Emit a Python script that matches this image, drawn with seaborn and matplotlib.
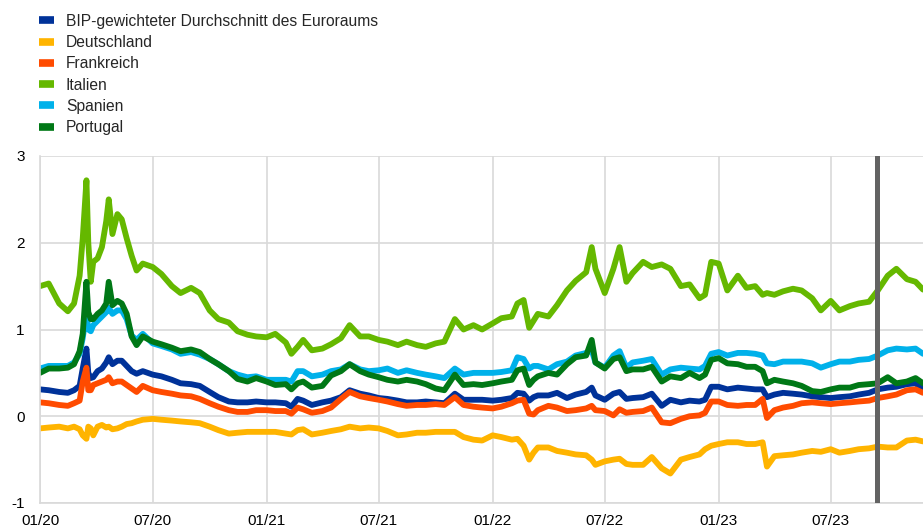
import matplotlib
matplotlib.use("Agg")
import pandas as pd
import matplotlib.pyplot as plt
import matplotlib.dates as mdates
from matplotlib.lines import Line2D
import seaborn as sns

# Stichtage (ungefähr halbmonatlich, dichter bei Ausschlägen)
dates = [
    # 2020
    "2020-01-01", "2020-01-15", "2020-02-01", "2020-02-15", "2020-02-25", "2020-03-05",
    "2020-03-10", "2020-03-16", "2020-03-19", "2020-03-23", "2020-03-27", "2020-04-03",
    "2020-04-10", "2020-04-17", "2020-04-21", "2020-04-27", "2020-05-05", "2020-05-12",
    "2020-05-20", "2020-05-28", "2020-06-05", "2020-06-15", "2020-07-01", "2020-07-15",
    "2020-08-01", "2020-08-15", "2020-09-01", "2020-09-15", "2020-10-01", "2020-10-15",
    "2020-11-01", "2020-11-15", "2020-12-01", "2020-12-15",
    # 2021
    "2021-01-01", "2021-01-15", "2021-02-01", "2021-02-10", "2021-02-20", "2021-03-01",
    "2021-03-15", "2021-04-01", "2021-04-15", "2021-05-01", "2021-05-15", "2021-06-01",
    "2021-06-15", "2021-07-01", "2021-07-15", "2021-08-01", "2021-08-15", "2021-09-01",
    "2021-09-15", "2021-10-01", "2021-10-15", "2021-11-01", "2021-11-15", "2021-12-01",
    "2021-12-15",
    # 2022
    "2022-01-01", "2022-01-15", "2022-02-01", "2022-02-10", "2022-02-20", "2022-03-01",
    "2022-03-08", "2022-03-15", "2022-04-01", "2022-04-15", "2022-05-01", "2022-05-15",
    "2022-06-01", "2022-06-10", "2022-06-16", "2022-07-01", "2022-07-15", "2022-07-25",
    "2022-08-05", "2022-08-15", "2022-09-01", "2022-09-15", "2022-10-01", "2022-10-15",
    "2022-11-01", "2022-11-15", "2022-12-01", "2022-12-10", "2022-12-20",
    # 2023
    "2023-01-01", "2023-01-15", "2023-02-01", "2023-02-15", "2023-03-01", "2023-03-13",
    "2023-03-20", "2023-04-01", "2023-04-15", "2023-05-01", "2023-05-15", "2023-06-01",
    "2023-06-15", "2023-07-01", "2023-07-15", "2023-08-01", "2023-08-15", "2023-09-01",
    "2023-09-15", "2023-10-01", "2023-10-15", "2023-11-01", "2023-11-15", "2023-11-27",
]

euroraum = [
    0.31, 0.30, 0.28, 0.27, 0.30, 0.35, 0.55, 0.78, 0.50, 0.44, 0.45, 0.52, 0.55, 0.62, 0.68, 0.60, 0.64,
    0.64, 0.58, 0.52, 0.49, 0.52, 0.48, 0.46, 0.42, 0.38, 0.37, 0.35, 0.28, 0.22, 0.17, 0.16, 0.16, 0.17,
    0.16, 0.16, 0.15, 0.11, 0.20, 0.18, 0.13, 0.16, 0.18, 0.22, 0.30, 0.26, 0.24, 0.21, 0.20, 0.18, 0.16,
    0.16, 0.17, 0.16, 0.15, 0.26, 0.19, 0.19, 0.19,
    0.18, 0.19, 0.21, 0.27, 0.26, 0.18, 0.22, 0.24, 0.24, 0.27, 0.21, 0.25, 0.28, 0.33, 0.24, 0.19, 0.26,
    0.28, 0.20, 0.21, 0.22, 0.26, 0.12, 0.19, 0.16, 0.18, 0.17, 0.19, 0.34,
    0.34, 0.31, 0.33, 0.32, 0.31, 0.31, 0.22, 0.25, 0.27, 0.26, 0.25, 0.23, 0.22, 0.21, 0.22, 0.23, 0.25,
    0.27, 0.31, 0.33, 0.34, 0.37, 0.38, 0.31,
]
deutschland = [
    -0.14, -0.13, -0.12, -0.14, -0.12, -0.15, -0.22, -0.26, -0.12, -0.14, -0.22, -0.12, -0.10, -0.13,
    -0.12, -0.15, -0.14, -0.12, -0.09, -0.08, -0.06, -0.04, -0.03, -0.04, -0.05, -0.06, -0.07, -0.08,
    -0.12, -0.16, -0.20, -0.19, -0.18, -0.18,
    -0.18, -0.18, -0.20, -0.21, -0.16, -0.15, -0.21, -0.19, -0.17, -0.15, -0.12, -0.14, -0.13, -0.14,
    -0.17, -0.22, -0.21, -0.19, -0.19, -0.18, -0.18, -0.18, -0.24, -0.27, -0.28,
    -0.22, -0.24, -0.27, -0.26, -0.34, -0.50, -0.42, -0.36, -0.36, -0.40, -0.42, -0.44, -0.45, -0.50,
    -0.56, -0.52, -0.50, -0.49, -0.55, -0.56, -0.56, -0.47, -0.60, -0.66, -0.50, -0.47, -0.44, -0.38,
    -0.34,
    -0.32, -0.30, -0.30, -0.32, -0.32, -0.30, -0.58, -0.46, -0.45, -0.44, -0.42, -0.40, -0.41, -0.38,
    -0.42, -0.40, -0.38, -0.37, -0.35, -0.36, -0.36, -0.28, -0.27, -0.29,
]
frankreich = [
    0.16, 0.15, 0.13, 0.12, 0.15, 0.18, 0.40, 0.56, 0.30, 0.30, 0.36, 0.38, 0.40, 0.42, 0.45, 0.38, 0.40,
    0.40, 0.36, 0.32, 0.28, 0.35, 0.30, 0.28, 0.26, 0.24, 0.23, 0.20, 0.15, 0.11, 0.07, 0.05, 0.05, 0.07,
    0.07, 0.06, 0.06, 0.03, 0.10, 0.08, 0.04, 0.06, 0.10, 0.20, 0.28, 0.23, 0.21, 0.19, 0.17, 0.14, 0.12,
    0.13, 0.13, 0.14, 0.13, 0.22, 0.13, 0.11, 0.10,
    0.09, 0.11, 0.15, 0.18, 0.19, 0.03, 0.02, 0.07, 0.12, 0.10, 0.06, 0.07, 0.09, 0.12, 0.07, 0.06, 0.01,
    0.08, 0.04, 0.05, 0.06, 0.10, -0.07, -0.08, -0.03, 0.00, 0.01, 0.04, 0.17,
    0.17, 0.13, 0.12, 0.13, 0.13, 0.20, -0.02, 0.07, 0.10, 0.12, 0.15, 0.16, 0.15, 0.14, 0.15, 0.16, 0.17,
    0.18, 0.21, 0.23, 0.25, 0.30, 0.31, 0.27,
]
italien = [
    1.50, 1.53, 1.30, 1.21, 1.30, 1.62, 2.05, 2.72, 2.00, 1.55, 1.78, 1.82, 1.95, 2.25, 2.50, 2.10, 2.33,
    2.27, 2.05, 1.85, 1.68, 1.76, 1.72, 1.64, 1.50, 1.42, 1.48, 1.42, 1.22, 1.12, 1.08, 0.98, 0.94, 0.92,
    0.91, 0.95, 0.85, 0.72, 0.80, 0.88, 0.76, 0.78, 0.83, 0.90, 1.05, 0.92, 0.92, 0.88, 0.86, 0.82, 0.86,
    0.82, 0.80, 0.84, 0.86, 1.12, 1.00, 1.05, 1.00,
    1.07, 1.13, 1.15, 1.30, 1.34, 1.02, 1.10, 1.18, 1.15, 1.28, 1.45, 1.56, 1.66, 1.95, 1.70, 1.42, 1.70,
    1.95, 1.55, 1.65, 1.78, 1.72, 1.75, 1.70, 1.50, 1.52, 1.36, 1.40, 1.78,
    1.76, 1.45, 1.62, 1.48, 1.50, 1.40, 1.42, 1.40, 1.44, 1.47, 1.45, 1.36, 1.22, 1.33, 1.22, 1.27, 1.30,
    1.32, 1.45, 1.62, 1.70, 1.58, 1.55, 1.46,
]
spanien = [
    0.55, 0.58, 0.58, 0.58, 0.62, 0.72, 0.90, 1.20, 1.00, 0.98, 1.05, 1.10, 1.15, 1.20, 1.25, 1.18, 1.22,
    1.22, 1.12, 0.93, 0.88, 0.95, 0.84, 0.81, 0.77, 0.72, 0.74, 0.71, 0.66, 0.60, 0.52, 0.48, 0.45, 0.46,
    0.42, 0.42, 0.42, 0.40, 0.52, 0.52, 0.46, 0.48, 0.52, 0.54, 0.60, 0.54, 0.52, 0.53, 0.55, 0.50, 0.53,
    0.50, 0.48, 0.46, 0.44, 0.55, 0.48, 0.50, 0.50,
    0.50, 0.51, 0.53, 0.68, 0.66, 0.55, 0.58, 0.58, 0.54, 0.60, 0.63, 0.70, 0.73, 0.76, 0.62, 0.56, 0.70,
    0.75, 0.56, 0.62, 0.64, 0.66, 0.48, 0.54, 0.56, 0.55, 0.54, 0.58, 0.72,
    0.74, 0.70, 0.73, 0.73, 0.72, 0.70, 0.61, 0.60, 0.63, 0.63, 0.63, 0.61, 0.56, 0.60, 0.63, 0.63, 0.65,
    0.66, 0.70, 0.76, 0.78, 0.77, 0.78, 0.72,
]
portugal = [
    0.50, 0.55, 0.55, 0.56, 0.60, 0.75, 0.95, 1.55, 1.20, 1.12, 1.12, 1.18, 1.22, 1.30, 1.55, 1.28, 1.33,
    1.30, 1.18, 0.92, 0.82, 0.92, 0.86, 0.83, 0.79, 0.75, 0.77, 0.74, 0.66, 0.60, 0.52, 0.43, 0.40, 0.44,
    0.40, 0.36, 0.37, 0.31, 0.38, 0.40, 0.33, 0.35, 0.47, 0.52, 0.60, 0.52, 0.48, 0.45, 0.42, 0.40, 0.42,
    0.40, 0.37, 0.32, 0.30, 0.48, 0.36, 0.37, 0.36,
    0.38, 0.40, 0.42, 0.53, 0.55, 0.36, 0.42, 0.46, 0.50, 0.48, 0.60, 0.68, 0.70, 0.88, 0.62, 0.55, 0.66,
    0.68, 0.52, 0.54, 0.54, 0.57, 0.40, 0.46, 0.44, 0.50, 0.44, 0.48, 0.65,
    0.67, 0.61, 0.60, 0.57, 0.57, 0.52, 0.38, 0.42, 0.40, 0.38, 0.35, 0.29, 0.28, 0.31, 0.33, 0.33, 0.36,
    0.37, 0.38, 0.45, 0.38, 0.40, 0.44, 0.38,
]

labels = ["BIP-gewichteter Durchschnitt des Euroraums", "Deutschland", "Frankreich",
          "Italien", "Spanien", "Portugal"]
colors = ["#003299", "#FFB400", "#FF4B00", "#65B800", "#00B1EA", "#007816"]
series = [euroraum, deutschland, frankreich, italien, spanien, portugal]

x_ticks = pd.date_range("2020-01-01", "2023-07-01", freq="6MS")
x_end = "2023-11-27"
marker_date = "2023-09-14"

df = pd.concat(
    [pd.DataFrame({"date": pd.to_datetime(dates), "value": v, "series": lab})
     for lab, v in zip(labels, series)],
    ignore_index=True,
)

sns.set_style("white")
plt.rcParams["font.family"] = ["Liberation Sans", "DejaVu Sans"]
plt.rcParams["axes.unicode_minus"] = False

fig = plt.figure(figsize=(9.23, 5.29), dpi=100)
ax = fig.add_axes([40 / 923, 26 / 529, 883 / 923, 347 / 529])

sns.lineplot(data=df, x="date", y="value", hue="series", hue_order=labels,
             palette=dict(zip(labels, colors)), linewidth=4.2, legend=False, ax=ax)

ax.axvline(pd.Timestamp(marker_date), color="#636363", linewidth=3.6, zorder=5)

ax.set_xlim(pd.Timestamp(dates[0]), pd.Timestamp(x_end))
ax.set_ylim(-1, 3)
ax.set_yticks([-1, 0, 1, 2, 3])
ax.set_xticks(x_ticks)
ax.xaxis.set_major_formatter(mdates.DateFormatter("%m/%y"))
ax.set_xlabel("")
ax.set_ylabel("")

ax.grid(True, color="#d9d9d9", linewidth=1.2)
ax.set_axisbelow(True)
for side in ["top", "right"]:
    ax.spines[side].set_visible(False)
for side in ["left", "bottom"]:
    ax.spines[side].set_color("#d9d9d9")
    ax.spines[side].set_linewidth(1.2)
ax.tick_params(axis="both", length=0, labelsize=11, colors="black")
ax.tick_params(axis="y", pad=11)
ax.tick_params(axis="x", pad=8)

handles = [Line2D([0], [0], color=c, linewidth=5.5, solid_capstyle="butt") for c in colors]
fig.legend(handles, labels, loc="upper left", bbox_to_anchor=(0.0426, 0.974),
           frameon=False, fontsize=11.25, handlelength=0.95, handletextpad=0.75,
           labelspacing=0.4, borderpad=0, borderaxespad=0)

fig.savefig("out.png", dpi=100)
